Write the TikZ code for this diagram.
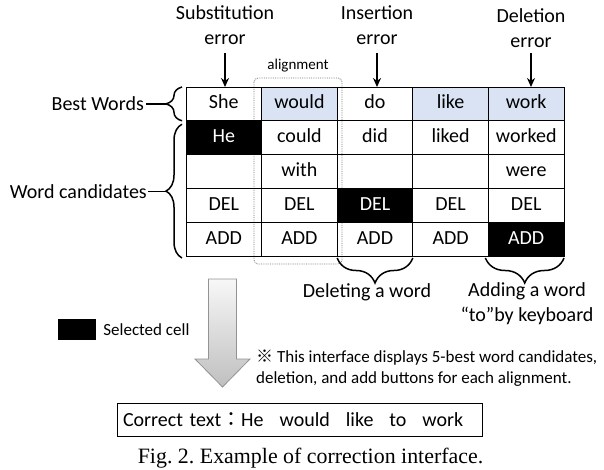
\documentclass[tikz,border=0pt]{standalone}
\usepackage{fontspec}
\setmainfont{Carlito}
\newfontfamily\cjk{Noto Sans CJK JP}
\newfontfamily\capfont{Liberation Serif}
\usetikzlibrary{arrows.meta,positioning,decorations.pathreplacing}
\definecolor{bestblue}{RGB}{218,227,243}
\definecolor{alngray}{RGB}{120,120,120}
\newcommand{\mainfs}{\fontsize{20}{25}\selectfont}
\newcommand{\notefs}{\fontsize{17}{20.5}\selectfont}
\frenchspacing

\begin{document}
\begin{tikzpicture}[x=1pt, y=-1pt,
  cell/.style={draw, line width=0.9pt, minimum width=75.6pt, minimum height=33.8pt,
               inner sep=0pt, outer sep=0pt, text height=15pt, text depth=5pt, font=\mainfs},
  best/.style={cell, fill=bestblue},
  picked/.style={cell, fill=black, text=white},
  lbl/.style={font=\mainfs, align=center, inner sep=0pt},
  earr/.style={-{Stealth[length=9pt, width=8pt]}, line width=1.5pt},
  brc/.style={decorate, decoration={brace, amplitude=#1}, line width=1.5pt}
]
\useasboundingbox (0,0) rectangle (604,470);

% Alignment frame (behind the cells)
\draw[densely dotted, draw=alngray, line width=0.8pt, rounded corners=4pt] (254,78) rectangle (342,264);
\node[font=\fontsize{15}{18}\selectfont, inner sep=0pt] (aln) at (298,66) {alignment};

% Best words
\node[cell]   (c11) at (223.8,103.9) {She};
\node[best]   (c12) at (299.4,103.9) {would};
\node[cell]   (c13) at (375.0,103.9) {do};
\node[best]   (c14) at (450.6,103.9) {like};
\node[best]   (c15) at (526.2,103.9) {work};

% Word candidates
\node[picked] (c21) at (223.8,137.7) {He};
\node[cell]   (c22) at (299.4,137.7) {could};
\node[cell]   (c23) at (375.0,137.7) {did};
\node[cell]   (c24) at (450.6,137.7) {liked};
\node[cell]   (c25) at (526.2,137.7) {worked};
\node[cell]   (c31) at (223.8,171.5) {};
\node[cell]   (c32) at (299.4,171.5) {with};
\node[cell]   (c33) at (375.0,171.5) {};
\node[cell]   (c34) at (450.6,171.5) {};
\node[cell]   (c35) at (526.2,171.5) {were};
\node[cell]   (c41) at (223.8,205.3) {DEL};
\node[cell]   (c42) at (299.4,205.3) {DEL};
\node[picked] (c43) at (375.0,205.3) {DEL};
\node[cell]   (c44) at (450.6,205.3) {DEL};
\node[cell]   (c45) at (526.2,205.3) {DEL};
\node[cell]   (c51) at (223.8,239.1) {ADD};
\node[cell]   (c52) at (299.4,239.1) {ADD};
\node[cell]   (c53) at (375.0,239.1) {ADD};
\node[cell]   (c54) at (450.6,239.1) {ADD};
\node[picked] (c55) at (526.2,239.1) {ADD};

% Error labels
\node[lbl, anchor=south] (subst)  at (225,45) {Substitution\\error};
\node[lbl, anchor=south] (insert) at (377,45) {Insertion\\error};
\node[lbl, anchor=south] (delete) at (531,48) {Deletion\\error};
\draw[earr, shorten <=8pt] (subst.south)  -- (subst.south |- c11.north);
\draw[earr, shorten <=8pt] (insert.south) -- (insert.south |- c13.north);
\draw[earr, shorten <=5pt] (delete.south) -- (delete.south |- c15.north);

% Left braces
\coordinate (bwtip) at (166,103.9);
\coordinate (wctip) at (166,191.5);
\draw[brc=16pt] ([xshift=-4pt]c11.south west) -- ([xshift=-4pt]c11.north west);
\draw[brc=16pt] ([xshift=-4pt, yshift=-2pt]c51.south west) -- ([xshift=-4pt, yshift=-3.4pt]c21.north west);
\node[lbl, anchor=east, inner sep=2pt] (bestw) at (146,103.9) {Best Words};
\node[lbl, anchor=east, inner sep=1pt] (wcand) at (148,191.5) {Word candidates};
\draw[line width=1.5pt] (bestw) -- (bwtip);
\draw[line width=1.5pt] (wcand) -- (wctip);

% Bottom braces
\draw[brc=25pt] ([yshift=-2pt]c53.south east) -- ([yshift=-2pt]c53.south west);
\draw[brc=25pt] ([yshift=-2pt]c55.south east) -- ([xshift=-3pt, yshift=-2pt]c55.south west);
\node[lbl, anchor=base]  (dellab) at (367,297) {Deleting a word};
\node[lbl, anchor=north] (addlab) at (527,282) {Adding a word\\“to”by keyboard};

% Legend
\node[fill=black, minimum width=38pt, minimum height=21pt, inner sep=0pt] (selbox) at (77,329.5) {};
\node[right=7pt of selbox, inner sep=0pt, font=\notefs] (sellab) {Selected cell};

% Flow arrow
\draw[draw=gray!85, line width=0.8pt, top color=gray!6, bottom color=gray!50]
  (208.5,279) -- (236.5,279) -- (236.5,359) -- (250,359) -- (222.5,387) -- (195,359) -- (208.5,359) -- cycle;

% Note
\node[font=\notefs, align=left, anchor=north west, inner sep=0pt] (note) at (256,350)
  {{\cjk ※} This interface displays 5-best word candidates,\\deletion, and add buttons for each alignment.};

% Result
\node[draw, line width=1pt, font=\mainfs, minimum height=33pt, text width=353pt, inner xsep=6pt, align=left]
  (result) at (299.5,419.5) {Correct text{\cjk ：}He\hspace{0.8em}would\hspace{0.8em}like\hspace{0.8em}to\hspace{0.8em}work};

% Caption
\node[font=\capfont\fontsize{21.9}{26}\selectfont, anchor=base, inner sep=0pt] (caption) at (310.5,463)
  {Fig. 2. Example of correction interface.};
\end{tikzpicture}
\end{document}
